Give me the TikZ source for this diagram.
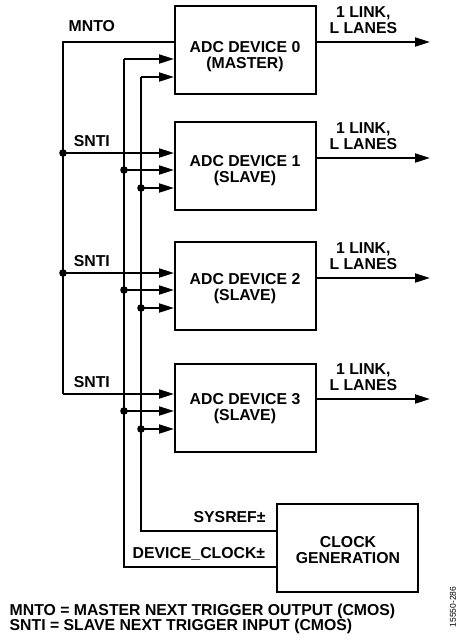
\documentclass[tikz,border=0pt]{standalone}
\usepackage{fontspec}
\setmainfont{Liberation Sans}
\usetikzlibrary{calc, arrows.meta}

\begin{document}
\begin{tikzpicture}[x=1pt, y=-1pt,
  wire/.style={line width=2pt},
  sig/.style={wire, -{Triangle[length=15pt, width=9pt]}},
  devbox/.style={draw, line width=2pt, minimum width=141pt, minimum height=88pt, inner sep=0pt},
  lbl/.style={font=\fontsize{15.8}{16}\selectfont\bfseries, align=center, inner sep=0pt}]
  \useasboundingbox (0,0) rectangle (459,641);
  % ADC devices and clock
  \node[devbox] (dev0) at (245.5,50) {};
  \node[devbox] (dev1) at (245.5,166) {};
  \node[devbox] (dev2) at (245.5,286) {};
  \node[devbox] (dev3) at (245.5,408) {};
  \node[devbox] (clk) at (347.5,548) {};
  \node[lbl] (t0) at (245,56.5) {ADC DEVICE 0\\(MASTER)};
  \node[lbl] (t1) at (245,170.5) {ADC DEVICE 1\\(SLAVE)};
  \node[lbl] (t2) at (245,288.5) {ADC DEVICE 2\\(SLAVE)};
  \node[lbl] (t3) at (245,408.5) {ADC DEVICE 3\\(SLAVE)};
  \node[lbl] (tc) at (348,550) {CLOCK\\GENERATION};
  % bus corners
  \coordinate (m0) at (63,42);
  \coordinate (m1) at (63,153);
  \coordinate (m2) at (63,273);
  \coordinate (m3) at (63,394);
  \coordinate (c0) at (124,59);
  \coordinate (c1) at (124,170);
  \coordinate (c2) at (124,290);
  \coordinate (c3) at (124,411);
  \coordinate (c4) at (124,567);
  \coordinate (s0) at (141,77);
  \coordinate (s1) at (141,188);
  \coordinate (s2) at (141,308);
  \coordinate (s3) at (141,429);
  \coordinate (s4) at (141,531);
  % MNTO / SNTI
  \draw[wire] (dev0.west |- m0) -- (m0) node[lbl, pos=0.74, above=9.5pt] {MNTO} -- (m3);
  \draw[sig] (m1) -- (dev1.west |- m1) node[lbl, pos=0.26, above=5pt] {SNTI};
  \draw[sig] (m2) -- (dev2.west |- m2) node[lbl, pos=0.26, above=5pt] {SNTI};
  \draw[sig] (m3) -- (dev3.west |- m3) node[lbl, pos=0.26, above=5pt] {SNTI};
  % DEVICE_CLOCK
  \draw[wire] (clk.west |- c4) -- (c4) node[lbl, pos=0.065, above=6pt, anchor=south east] {DEVICE\_CLOCK±} -- (c0);
  \draw[sig] (c0) -- (dev0.west |- c0);
  \draw[sig] (c1) -- (dev1.west |- c1);
  \draw[sig] (c2) -- (dev2.west |- c2);
  \draw[sig] (c3) -- (dev3.west |- c3);
  % SYSREF
  \draw[wire] (clk.west |- s4) -- (s4) node[lbl, pos=0.07, above=7pt, anchor=south east] {SYSREF±} -- (s0);
  \draw[sig] (s0) -- (dev0.west |- s0);
  \draw[sig] (s1) -- (dev1.west |- s1);
  \draw[sig] (s2) -- (dev2.west |- s2);
  \draw[sig] (s3) -- (dev3.west |- s3);
  % junctions
  \fill (m1) circle[radius=3.8];
  \fill (m2) circle[radius=3.8];
  \fill (c1) circle[radius=3.8];
  \fill (c2) circle[radius=3.8];
  \fill (c3) circle[radius=3.8];
  \fill (s1) circle[radius=3.8];
  \fill (s2) circle[radius=3.8];
  \fill (s3) circle[radius=3.8];
  % outputs
  \coordinate (o0) at (430,42);
  \coordinate (o1) at (430,158);
  \coordinate (o2) at (430,278);
  \coordinate (o3) at (430,399);
  \draw[sig] (dev0.east |- o0) -- (o0) node[lbl, pos=0.41, above=7pt] {1 LINK,\\L LANES};
  \draw[sig] (dev1.east |- o1) -- (o1) node[lbl, pos=0.41, above=7pt] {1 LINK,\\L LANES};
  \draw[sig] (dev2.east |- o2) -- (o2) node[lbl, pos=0.41, above=7pt] {1 LINK,\\L LANES};
  \draw[sig] (dev3.east |- o3) -- (o3) node[lbl, pos=0.41, above=7pt] {1 LINK,\\L LANES};
  % legend
  \node[lbl, align=left, anchor=west, font=\fontsize{15.8}{13}\selectfont\bfseries] (key) at (9.5,619)
    {MNTO = MASTER NEXT TRIGGER OUTPUT (CMOS)\\SNTI = SLAVE NEXT TRIGGER INPUT (CMOS)};
  \node[rotate=90, font=\fontsize{8.5}{9}\selectfont] (fig) at (453,607) {15550-286};
\end{tikzpicture}
\end{document}
